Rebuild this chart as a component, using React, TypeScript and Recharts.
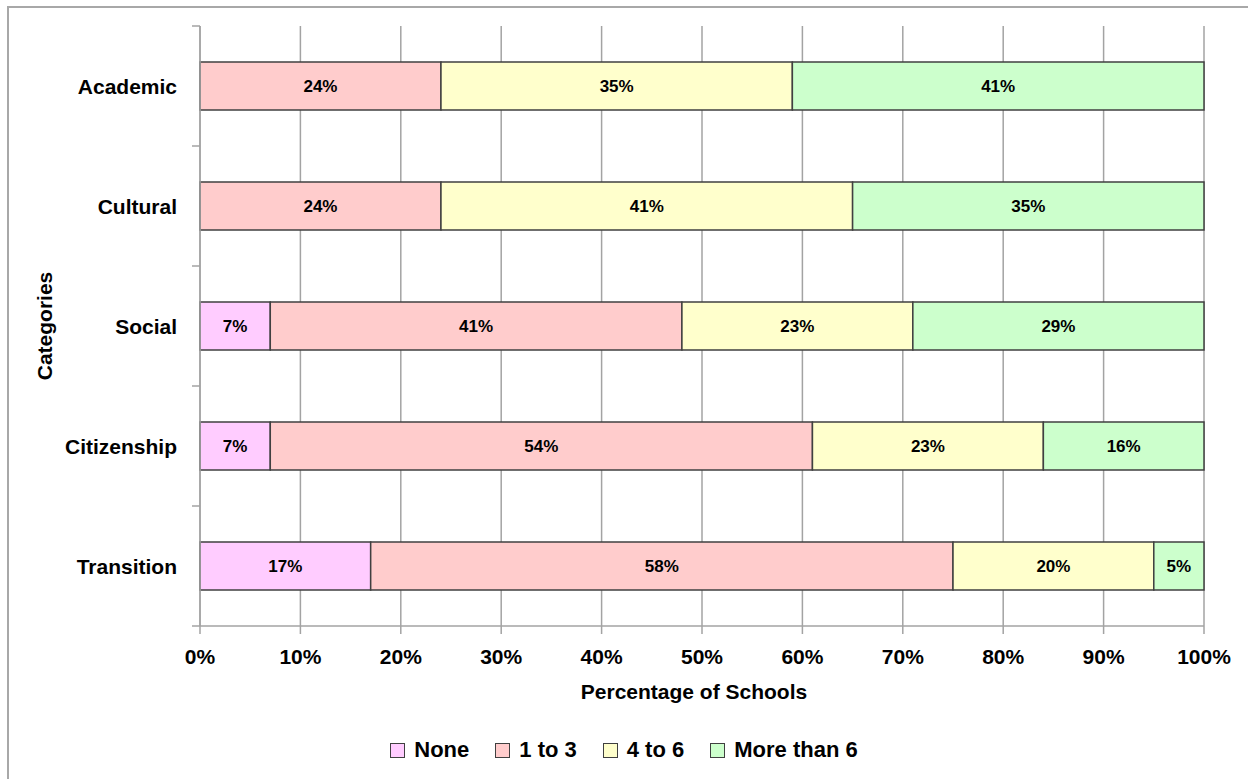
import React from 'react';
import { BarChart, Bar, XAxis, YAxis, CartesianGrid, Legend, LabelList } from 'recharts';

const categories = ['Academic', 'Cultural', 'Social', 'Citizenship', 'Transition'];
const noneValues = [0, 0, 7, 7, 17];
const oneToThreeValues = [24, 24, 41, 54, 58];
const fourToSixValues = [35, 41, 23, 23, 20];
const moreThanSixValues = [41, 35, 29, 16, 5];
const xTicks = [0, 10, 20, 30, 40, 50, 60, 70, 80, 90, 100];

const FONT = "'Liberation Sans', Arial, sans-serif";
const GRID = '#a3a3a3';
const EDGE = '#404040';

const SERIES = [
    { key: 'none', name: 'None', fill: '#ffccff' },
    { key: 'oneToThree', name: '1 to 3', fill: '#ffcccc' },
    { key: 'fourToSix', name: '4 to 6', fill: '#ffffcc' },
    { key: 'moreThanSix', name: 'More than 6', fill: '#ccffcc' },
];

const chartData = categories.map((name, i) => ({
    name,
    none: noneValues[i],
    oneToThree: oneToThreeValues[i],
    fourToSix: fourToSixValues[i],
    moreThanSix: moreThanSixValues[i],
}));

// category label plus small tick marks at the band edges
const CategoryTick = (props: any) => {
    const { x, y, payload, index } = props;
    const half = payload && payload.offset ? payload.offset : 60;
    const axisX = x + 23;
    return (
        <g>
            <line x1={axisX - 8} x2={axisX} y1={y - half} y2={y - half} stroke={GRID} strokeWidth={1.5} />
            {index === categories.length - 1 && (
                <line x1={axisX - 8} x2={axisX} y1={y + half} y2={y + half} stroke={GRID} strokeWidth={1.5} />
            )}
            <text x={x} y={y} dy="0.36em" textAnchor="end" fontFamily={FONT} fontWeight="bold" fontSize={21} fill="#000">
                {payload.value}
            </text>
        </g>
    );
};

// keep the series order (the default legend sorts by name)
const LegendContent = () => (
    <div style={{ display: 'flex', justifyContent: 'center', alignItems: 'center', fontFamily: FONT }}>
        {SERIES.map((s, i) => (
            <div key={s.key} style={{ display: 'flex', alignItems: 'center', marginRight: i < SERIES.length - 1 ? 26 : 0 }}>
                <span
                    style={{
                        display: 'inline-block',
                        width: 13,
                        height: 13,
                        background: s.fill,
                        border: `1.5px solid ${EDGE}`,
                        marginRight: 9,
                    }}
                />
                <span style={{ fontWeight: 'bold', fontSize: 22, color: '#000' }}>{s.name}</span>
            </div>
        ))}
    </div>
);

const hideZero = (v: any) => (v ? `${v}%` : '');

export default function App() {
    return (
        <div style={{ position: 'absolute', left: 0, top: 0, width: 1248, height: 779, background: '#fff', overflow: 'hidden' }}>
            <div
                style={{
                    position: 'absolute',
                    left: 7,
                    top: 6,
                    width: 1241,
                    height: 773,
                    borderTop: '2px solid #a8a8a8',
                    borderLeft: '2px solid #a8a8a8',
                    boxSizing: 'border-box',
                }}
            />
            <div style={{ position: 'absolute', left: 0, top: 0 }}>
                <BarChart
                    width={1248}
                    height={779}
                    data={chartData}
                    layout="vertical"
                    margin={{ top: 26, right: 44, left: 0, bottom: 73 }}
                >
                    <CartesianGrid horizontal={false} stroke={GRID} strokeWidth={1.5} />
                    <XAxis
                        type="number"
                        domain={[0, 100]}
                        ticks={xTicks}
                        tickFormatter={(v) => `${v}%`}
                        height={80}
                        axisLine={{ stroke: GRID, strokeWidth: 1.5 }}
                        tickLine={{ stroke: GRID, strokeWidth: 1.5 }}
                        tickSize={8}
                        tickMargin={15}
                        tick={{ fontFamily: FONT, fontWeight: 'bold', fontSize: 21, fill: '#000' }}
                        label={{
                            value: 'Percentage of Schools',
                            position: 'insideBottom',
                            offset: 7,
                            dx: -8,
                            style: { fontFamily: FONT, fontWeight: 'bold', fontSize: 21, fill: '#000' },
                        }}
                    />
                    <YAxis
                        type="category"
                        dataKey="name"
                        width={200}
                        axisLine={{ stroke: GRID, strokeWidth: 1.5 }}
                        tickLine={false}
                        tickSize={8}
                        tickMargin={15}
                        tick={<CategoryTick />}
                        label={{
                            value: 'Categories',
                            angle: -90,
                            position: 'insideLeft',
                            offset: 45,
                            style: { fontFamily: FONT, fontWeight: 'bold', fontSize: 21, fill: '#000', textAnchor: 'middle' },
                        }}
                    />
                    <Legend
                        layout="horizontal"
                        verticalAlign="middle"
                        align="center"
                        content={<LegendContent />}
                        wrapperStyle={{ left: 0, top: 737, width: 1248 }}
                    />
                    {SERIES.map((s) => (
                        <Bar
                            key={s.key}
                            dataKey={s.key}
                            name={s.name}
                            stackId="a"
                            fill={s.fill}
                            stroke={EDGE}
                            strokeWidth={1.5}
                            barSize={48}
                            isAnimationActive={false}
                        >
                            <LabelList
                                dataKey={s.key}
                                position="center"
                                formatter={hideZero}
                                style={{ fontFamily: FONT, fontWeight: 'bold', fontSize: 17, fill: '#000' }}
                            />
                        </Bar>
                    ))}
                </BarChart>
            </div>
        </div>
    );
}
